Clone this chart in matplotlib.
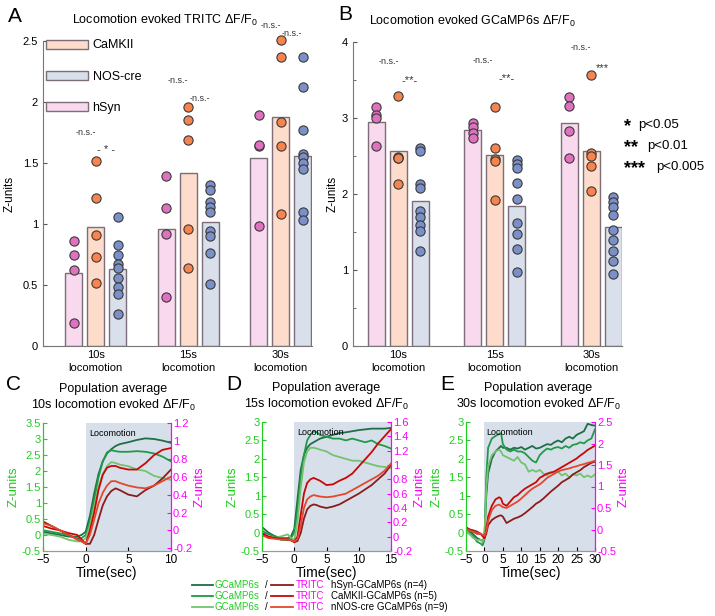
import matplotlib.pyplot as plt
from matplotlib.patches import Patch
from matplotlib.lines import Line2D

plt.rcParams['font.family'] = ['Liberation Sans', 'DejaVu Sans']
plt.rcParams['mathtext.default'] = 'regular'

# ---------------- dati ----------------
group_labels = ['10s\nlocomotion', '15s\nlocomotion', '30s\nlocomotion']
line_names = ['hSyn', 'CaMKII', 'NOS-cre']

# pannello A: TRITC
tritc_hsyn_mean = [0.60, 0.96, 1.54]
tritc_camk_mean = [0.975, 1.42, 1.88]
tritc_nos_mean = [0.63, 1.02, 1.56]
tritc_hsyn_pts = [[0.86, 0.75, 0.62, 0.19], [1.39, 1.13, 0.92, 0.40], [1.89, 1.64, 1.65, 0.98]]
tritc_camk_pts = [[1.52, 1.21, 0.91, 0.73, 0.52], [1.96, 1.85, 1.69, 0.96, 0.64],
                  [2.51, 2.37, 1.84, 1.64, 1.08]]
tritc_nos_pts = [[1.06, 0.83, 0.75, 0.67, 0.64, 0.555, 0.486, 0.426, 0.262],
                 [1.32, 1.28, 1.18, 1.14, 1.10, 0.945, 0.90, 0.765, 0.506],
                 [2.37, 2.12, 1.77, 1.57, 1.55, 1.50, 1.45, 1.10, 1.03]]

# pannello B: GCaMP6s
gcamp_hsyn_mean = [2.95, 2.84, 2.93]
gcamp_camk_mean = [2.57, 2.51, 2.57]
gcamp_nos_mean = [1.91, 1.84, 1.57]
gcamp_hsyn_pts = [[3.15, 3.04, 3.00, 2.63], [2.94, 2.88, 2.80, 2.74], [3.28, 3.16, 2.83, 2.47]]
gcamp_camk_pts = [[3.29, 2.49, 2.48, 2.47, 2.13], [3.14, 2.60, 2.46, 2.43, 1.92],
                  [3.57, 2.54, 2.50, 2.37, 2.04]]
gcamp_nos_pts = [[2.60, 2.56, 2.13, 2.08, 1.77, 1.70, 1.59, 1.51, 1.25],
                 [2.45, 2.40, 2.34, 2.15, 1.93, 1.62, 1.48, 1.28, 0.98],
                 [1.96, 1.89, 1.83, 1.72, 1.52, 1.40, 1.25, 1.12, 0.95]]

# significativita' (testo, gruppo, spostamento, y)
sig_a = [('-n.s.-', 1, -0.11, 1.75), ('- * -', 1, 0.11, 1.61),
         ('-n.s.-', 2, -0.11, 2.18), ('-n.s.-', 2, 0.13, 2.03),
         ('-n.s.-', 3, -0.10, 2.63), ('-n.s.-', 3, 0.12, 2.56)]
sig_b = [('-n.s.-', 1, -0.10, 3.74), ('-**-', 1, 0.12, 3.50),
         ('-n.s.-', 2, -0.12, 3.76), ('-**-', 2, 0.12, 3.53),
         ('-n.s.-', 3, -0.11, 3.93), ('***', 3, 0.12, 3.66)]

# tracce medie: pannello C (10 s)
t_c = [-5, -4, -3, -2, -1, -0.5, 0, 0.5, 1, 1.5, 2, 2.5, 3, 3.5, 4, 5, 6, 7, 8, 9, 10]
c_g_hsyn = [0.10, 0.05, 0.00, -0.05, -0.05, 0.00, 0.10, 0.60, 1.30, 1.90, 2.30, 2.55, 2.68, 2.78,
            2.84, 2.90, 2.97, 3.02, 3.00, 2.95, 2.88]
c_g_camk = [0.15, 0.10, 0.05, 0.00, -0.10, -0.10, 0.00, 0.40, 1.10, 1.80, 2.30, 2.58, 2.65, 2.62,
            2.60, 2.60, 2.62, 2.60, 2.55, 2.45, 2.30]
c_g_nos = [0.05, 0.00, -0.05, -0.15, -0.20, -0.20, -0.10, 0.30, 0.90, 1.50, 1.90, 2.15, 2.28, 2.25,
           2.20, 2.15, 2.05, 2.00, 1.85, 1.78, 1.72]
c_r_hsyn = [0.10, 0.05, 0.00, -0.05, -0.10, -0.12, -0.15, -0.15, -0.05, 0.12, 0.28, 0.38, 0.44,
            0.47, 0.45, 0.40, 0.38, 0.45, 0.50, 0.58, 0.68]
c_r_camk = [0.05, 0.02, 0.00, -0.03, -0.05, -0.10, -0.15, 0.00, 0.20, 0.45, 0.62, 0.70, 0.72,
            0.72, 0.70, 0.68, 0.68, 0.75, 0.84, 0.90, 0.92]
c_r_nos = [0.08, 0.05, 0.00, -0.05, -0.10, -0.12, -0.15, -0.05, 0.12, 0.30, 0.42, 0.50, 0.55,
           0.55, 0.53, 0.50, 0.48, 0.47, 0.50, 0.55, 0.60]

# pannello D (15 s)
t_d = [-5, -4, -3, -2, -1, -0.5, 0, 0.5, 1, 1.5, 2, 2.5, 3, 3.5, 4, 5, 6, 7, 8, 9, 10, 11, 12,
       13, 14, 15]
d_g_hsyn = [0.15, 0.00, -0.10, -0.15, -0.15, -0.10, 0.10, 0.90, 1.70, 2.10, 2.30, 2.40, 2.45,
            2.50, 2.55, 2.60, 2.65, 2.70, 2.72, 2.75, 2.78, 2.80, 2.82, 2.82, 2.82, 2.84]
d_g_camk = [0.05, -0.05, -0.10, -0.20, -0.20, -0.15, 0.00, 0.60, 1.50, 2.10, 2.50, 2.65, 2.75,
            2.72, 2.65, 2.60, 2.55, 2.55, 2.50, 2.55, 2.50, 2.45, 2.50, 2.40, 2.35, 2.28]
d_g_nos = [-0.05, -0.10, -0.15, -0.10, -0.05, -0.15, -0.20, 0.30, 1.20, 1.90, 2.20, 2.30, 2.30,
           2.28, 2.25, 2.20, 2.10, 2.05, 2.00, 1.95, 1.95, 1.90, 1.85, 1.80, 1.78, 1.75]
d_r_hsyn = [0.03, -0.01, -0.02, -0.03, -0.04, -0.05, -0.08, -0.06, 0.05, 0.25, 0.38, 0.43, 0.45,
            0.44, 0.42, 0.40, 0.42, 0.45, 0.50, 0.55, 0.60, 0.66, 0.72, 0.80, 0.88, 1.00]
d_r_camk = [0.05, 0.00, -0.02, -0.03, -0.04, -0.05, -0.07, 0.00, 0.30, 0.60, 0.75, 0.80, 0.82,
            0.80, 0.78, 0.72, 0.73, 0.78, 0.82, 0.88, 0.98, 1.08, 1.18, 1.30, 1.40, 1.50]
d_r_nos = [0.02, -0.02, -0.03, -0.04, -0.04, -0.05, -0.07, -0.03, 0.15, 0.40, 0.52, 0.56, 0.58,
           0.57, 0.56, 0.55, 0.56, 0.58, 0.60, 0.65, 0.70, 0.75, 0.80, 0.85, 0.92, 1.02]

# pannello E (30 s)
t_e = [-5, -4, -3, -2, -1, -0.5, 0, 0.5, 1, 2, 3, 4, 4.5, 5, 6, 7, 8, 9, 10, 11, 12, 13, 14,
       15, 16, 17, 18, 19, 20, 21, 22, 23, 24, 25, 26, 27, 28, 29, 30]
e_g_hsyn = [0.15, 0.05, -0.05, -0.15, -0.20, -0.25, -0.10, 1.00, 1.60, 2.00, 2.20, 2.30, 2.35,
            2.30, 2.30, 2.25, 2.30, 2.28, 2.32, 2.25, 2.30, 2.35, 2.28, 2.30, 2.35, 2.40, 2.38,
            2.45, 2.50, 2.45, 2.55, 2.60, 2.55, 2.65, 2.70, 2.75, 2.95, 2.92, 2.90]
e_g_camk = [0.10, 0.00, -0.10, -0.25, -0.30, -0.35, -0.20, 1.50, 2.30, 2.55, 2.62, 2.68, 2.70,
            2.40, 2.25, 2.20, 2.25, 2.20, 2.20, 2.15, 2.05, 1.95, 1.90, 2.10, 2.20, 2.28, 2.25,
            2.30, 2.32, 2.28, 2.35, 2.30, 2.38, 2.40, 2.45, 2.42, 2.50, 2.55, 2.80]
e_g_nos = [0.05, -0.05, -0.15, -0.20, -0.20, -0.25, -0.15, 1.20, 1.80, 2.10, 2.20, 2.25, 2.20,
           2.10, 2.05, 2.00, 1.95, 2.05, 1.90, 1.85, 1.65, 1.70, 1.65, 1.70, 1.60, 1.55, 1.65,
           1.60, 1.65, 1.55, 1.60, 1.50, 1.58, 1.55, 1.60, 1.50, 1.55, 1.50, 1.58]
e_r_hsyn = [0.03, 0.00, -0.02, -0.05, -0.10, -0.15, -0.20, -0.10, 0.10, 0.22, 0.28, 0.32, 0.33,
            0.30, 0.15, 0.20, 0.25, 0.28, 0.32, 0.38, 0.45, 0.52, 0.60, 0.65, 0.72, 0.80, 0.88,
            0.95, 1.02, 1.10, 1.15, 1.20, 1.28, 1.33, 1.38, 1.45, 1.50, 1.55, 1.58]
e_r_camk = [0.05, 0.00, -0.05, -0.10, -0.10, -0.15, -0.20, 0.00, 0.30, 0.55, 0.70, 0.75, 0.72,
            0.60, 0.55, 0.65, 0.75, 0.80, 0.88, 0.95, 1.00, 1.05, 1.10, 1.20, 1.25, 1.30, 1.32,
            1.35, 1.40, 1.45, 1.50, 1.55, 1.60, 1.65, 1.72, 1.78, 1.85, 1.90, 1.95]
e_r_nos = [0.02, -0.02, -0.05, -0.08, -0.10, -0.12, -0.15, -0.05, 0.20, 0.45, 0.55, 0.58, 0.55,
           0.52, 0.50, 0.55, 0.60, 0.65, 0.72, 0.80, 0.88, 0.95, 1.00, 1.05, 1.12, 1.20, 1.25,
           1.30, 1.35, 1.38, 1.40, 1.42, 1.45, 1.47, 1.50, 1.52, 1.55, 1.57, 1.60]

legend_rows = ['hSyn-GCaMP6s (n=4)', 'CaMKII-GCaMP6s (n=5)', 'nNOS-cre GCaMP6s (n=9)']

# ---------------- stile ----------------
fill_col = {'hSyn': '#f8d9ee', 'CaMKII': '#fddccb', 'NOS-cre': '#d9dfeb'}
dot_col = {'hSyn': '#e070c0', 'CaMKII': '#f7834e', 'NOS-cre': '#7b8fc8'}
green_col = ['#1f6e45', '#1f9a48', '#74c26e']
red_col = ['#8c1c1c', '#c80808', '#e4472d']
GREEN_TXT = '#22cc22'
MAG = '#ff00ff'
SHADE = '#d7e0ea'

W, H = 715, 616
fig = plt.figure(figsize=(W / 100, H / 100), dpi=100)


def px_axes(l, t, r, b):
    return fig.add_axes([l / W, 1 - b / H, (r - l) / W, (b - t) / H])


def bar_panel(ax, means, pts, off, width, xlim, ylim):
    for k, name in enumerate(line_names):
        xs = [g + 1 + (k - 1) * off for g in range(3)]
        ax.bar(xs, means[k], width=width, color=fill_col[name], edgecolor='#7d6d78',
               linewidth=1.0, zorder=2)
        for g in range(3):
            ax.scatter([xs[g]] * len(pts[k][g]), pts[k][g], s=44, color=dot_col[name],
                       edgecolor='#3a3a3a', linewidth=0.8, zorder=3, clip_on=False)
    ax.set_xlim(*xlim)
    ax.set_ylim(*ylim)
    ax.set_xticks([1, 2, 3])
    ax.set_xticklabels(group_labels, fontsize=8, linespacing=1.3)
    ax.tick_params(axis='x', length=0, pad=3)
    ax.tick_params(axis='y', direction='in', length=3, labelsize=8, color='#555555')
    for s in ['top', 'right']:
        ax.spines[s].set_visible(False)
    for s in ['left', 'bottom']:
        ax.spines[s].set_color('#777777')
    ax.set_ylabel('Z-units', fontsize=8.5)


# ---- A ----
axA = px_axes(43, 41, 312, 346)
bar_panel(axA, [tritc_hsyn_mean, tritc_camk_mean, tritc_nos_mean],
          [tritc_hsyn_pts, tritc_camk_pts, tritc_nos_pts], 0.238, 0.184, (0.43, 3.34), (0, 2.5))
axA.set_yticks([0, 0.5, 1, 1.5, 2, 2.5])
axA.set_yticklabels(['0', '0.5', '1', '1.5', '2', '2.5'])
axA.yaxis.labelpad = 5
for txt, g, dx, y in sig_a:
    axA.text(g + dx, y, txt, ha='center', va='center', fontsize=6.5 if 'n.s' in txt else 8,
             color='#333333')
handles = [Patch(facecolor=fill_col[n], edgecolor='#7d6d78') for n in ['CaMKII', 'NOS-cre', 'hSyn']]
axA.legend(handles, ['CaMKII', 'NOS-cre', 'hSyn'], loc='upper left', bbox_to_anchor=(0.01, 1.005),
           frameon=False, fontsize=9, handlelength=3.4, handleheight=0.75, labelspacing=1.55,
           handletextpad=0.35, borderpad=0, borderaxespad=0)
axA.set_title('Locomotion evoked TRITC ΔF/F$_0$', fontsize=9, pad=12, x=0.455)

# ---- B ----
axB = px_axes(353, 42, 622, 346)
bar_panel(axB, [gcamp_hsyn_mean, gcamp_camk_mean, gcamp_nos_mean],
          [gcamp_hsyn_pts, gcamp_camk_pts, gcamp_nos_pts], 0.228, 0.178, (0.53, 3.32), (0, 4))
axB.set_yticks([0, 1, 2, 3, 4])
axB.set_yticks([0.5, 1.5, 2.5, 3.5], minor=True)
axB.tick_params(axis='y', which='minor', direction='in', length=2, color='#555555')
axB.yaxis.labelpad = 2
for txt, g, dx, y in sig_b:
    axB.text(g + dx, y, txt, ha='center', va='center', fontsize=6.5 if 'n.s' in txt else 8,
             color='#333333')
axB.set_title('Locomotion evoked GCaMP6s ΔF/F$_0$', fontsize=9, pad=12, x=0.445)

# legenda p-value
for i, (st, lab) in enumerate([('*', 'p<0.05'), ('**', 'p<0.01'), ('***', 'p<0.005')]):
    y = 1 - (127 + 21 * i) / H
    fig.text(624 / W, y, st, fontsize=13, fontweight='bold', va='center', ha='left')
    fig.text((638 + 9 * (len(st) - 1)) / W, y + 0.003, lab, fontsize=9.5, va='center', ha='left')

fig.text(8 / W, 1 - 16 / H, 'A', fontsize=15, va='center')
fig.text(338 / W, 1 - 14 / H, 'B', fontsize=15, va='center')

# ---- C, D, E ----
def trace_panel(box, t, greens, reds, xlim, ylim_l, ylim_r, yt_l, yt_r, xt, dur, letter, lx, tx):
    ax = px_axes(*box)
    axr = ax.twinx()
    ax.axvspan(0, dur, color=SHADE, zorder=0, lw=0)
    for k in range(3):
        ax.plot(t, greens[k], color=green_col[k], lw=1.3, zorder=2)
        axr.plot(t, reds[k], color=red_col[k], lw=1.3, zorder=2)
    ax.set_xlim(*xlim)
    ax.set_ylim(*ylim_l)
    axr.set_ylim(*ylim_r)
    ax.set_xticks(xt)
    ax.set_yticks(yt_l)
    ax.set_yticklabels([('%g' % v) for v in yt_l])
    axr.set_yticks(yt_r)
    axr.set_yticklabels([('%g' % v) for v in yt_r])
    ax.tick_params(axis='y', colors=GREEN_TXT, direction='in', length=3, labelsize=8, pad=1.5)
    axr.tick_params(axis='y', colors=MAG, direction='in', length=3, labelsize=8, pad=1.5)
    ax.tick_params(axis='x', direction='in', length=3, labelsize=8.5, pad=2)
    for a in (ax, axr):
        a.spines['top'].set_visible(False)
        a.spines['left'].set_color(GREEN_TXT)
        a.spines['right'].set_color(MAG)
        a.spines['bottom'].set_color('#999999')
    ax.set_ylabel('Z-units', color=GREEN_TXT, fontsize=9.5, labelpad=2)
    axr.set_ylabel('Z-units', color=MAG, fontsize=9.5, labelpad=1)
    ax.set_xlabel('Time(sec)', fontsize=10, labelpad=0)
    ax.text(0.4, ylim_l[1] - 0.05 * (ylim_l[1] - ylim_l[0]), 'Locomotion', fontsize=6.5,
            va='top', ha='left', zorder=3)
    ax.set_title('Population average\n%ds locomotion evoked ΔF/F$_0$' % dur, fontsize=9,
                 pad=10, linespacing=1.3, x=tx)
    fig.text(lx / W, 1 - 384 / H, letter, fontsize=15, va='center')


trace_panel((43, 423, 171, 551), t_c, [c_g_hsyn, c_g_camk, c_g_nos], [c_r_hsyn, c_r_camk, c_r_nos],
            (-5, 10), (-0.5, 3.5), (-0.23, 1.2), [-0.5, 0, 0.5, 1, 1.5, 2, 2.5, 3, 3.5],
            [-0.2, 0, 0.2, 0.4, 0.6, 0.8, 1, 1.2], [-5, 0, 5, 10], 10, 'C', 6, 0.55)
trace_panel((262, 422, 391, 551), t_d, [d_g_hsyn, d_g_camk, d_g_nos], [d_r_hsyn, d_r_camk, d_r_nos],
            (-5, 15), (-0.5, 3), (-0.2, 1.6), [-0.5, 0, 0.5, 1, 1.5, 2, 2.5, 3],
            [-0.2, 0, 0.2, 0.4, 0.6, 0.8, 1, 1.2, 1.4, 1.6], [-5, 0, 5, 10, 15], 15, 'D', 226, 0.5)
trace_panel((466, 422, 595, 551), t_e, [e_g_hsyn, e_g_camk, e_g_nos], [e_r_hsyn, e_r_camk, e_r_nos],
            (-5, 30), (-0.5, 3), (-0.5, 2.5), [-0.5, 0, 0.5, 1, 1.5, 2, 2.5, 3],
            [-0.5, 0, 0.5, 1, 1.5, 2, 2.5], [-5, 0, 5, 10, 15, 20, 25, 30], 30, 'E', 440, 0.56)

# legenda in basso
for i, lab in enumerate(legend_rows):
    y = 1 - (585 + 11 * i) / H
    fig.add_artist(Line2D([192 / W, 213 / W], [y, y], color=green_col[i], lw=1.3))
    fig.text(215 / W, y, 'GCaMP6s', color=GREEN_TXT, fontsize=7, va='center')
    fig.text(265 / W, y, '/', color='black', fontsize=7, va='center')
    fig.add_artist(Line2D([271 / W, 293 / W], [y, y], color=red_col[i], lw=1.3))
    fig.text(296 / W, y, 'TRITC', color=MAG, fontsize=7, va='center')
    fig.text(331 / W, y, lab, color='black', fontsize=7, va='center')

fig.savefig('out.png', dpi=100)
